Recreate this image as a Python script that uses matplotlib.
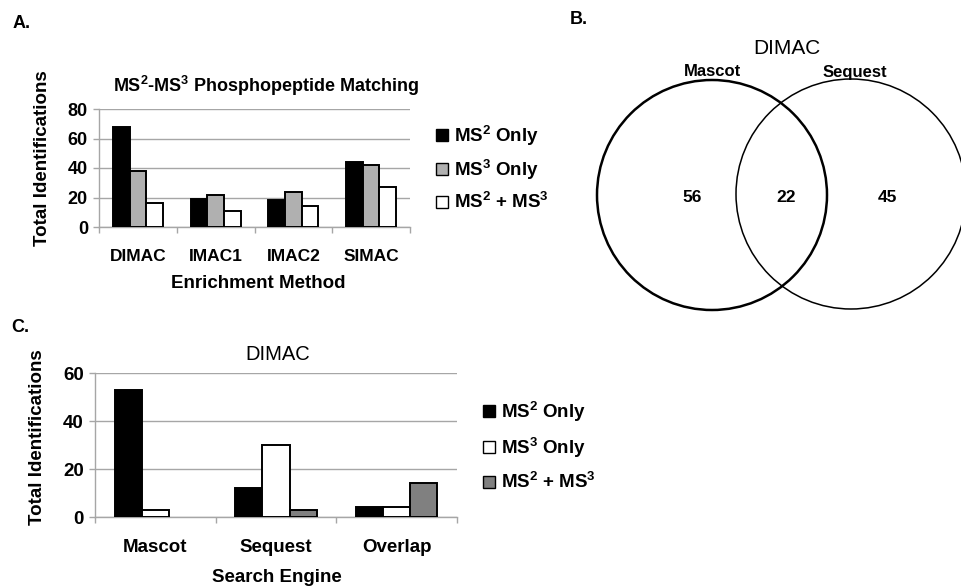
import matplotlib
matplotlib.use("Agg")
import matplotlib.pyplot as plt
import numpy as np
from matplotlib.patches import Circle, Patch

plt.rcParams['font.family'] = ['Liberation Sans', 'DejaVu Sans']
plt.rcParams['mathtext.fontset'] = 'custom'
plt.rcParams['mathtext.rm'] = 'Liberation Sans:bold'
plt.rcParams['mathtext.it'] = 'Liberation Sans:bold'
plt.rcParams['mathtext.bf'] = 'Liberation Sans:bold'
plt.rcParams['mathtext.default'] = 'rm'

# ---------------- data ----------------
a_categories = ['DIMAC', 'IMAC1', 'IMAC2', 'SIMAC']
a_ms2_only = [68, 19, 18, 44]
a_ms3_only = [38, 22, 24, 42]
a_ms2_ms3 = [16, 11, 14, 27]
a_yticks = [0, 20, 40, 60, 80]

venn_labels = ['Mascot', 'Sequest']
venn_counts = [56, 22, 45]  # Mascot only, overlap, Sequest only

c_categories = ['Mascot', 'Sequest', 'Overlap']
c_ms2_only = [53, 12, 4]
c_ms3_only = [3, 30, 4]
c_ms2_ms3 = [0, 3, 14]
c_yticks = [0, 20, 40, 60]

legend_labels = ['MS$^{2}$ Only', 'MS$^{3}$ Only', 'MS$^{2}$ + MS$^{3}$']

W, H = 962, 587
fig = plt.figure(figsize=(W / 100, H / 100), dpi=100)


def fx(px):
    return px / W


def fy(py):
    return 1 - py / H


GRID = '#a6a6a6'


def style_axes(ax, ncat, yticks, yfs, xfs, xpad):
    ax.set_xlim(-0.5, ncat - 0.5)
    ax.set_ylim(yticks[0], yticks[-1])
    ax.set_yticks(yticks)
    ax.yaxis.grid(True, color=GRID, lw=1)
    ax.set_axisbelow(True)
    for s in ['top', 'right']:
        ax.spines[s].set_visible(False)
    for s in ['left', 'bottom']:
        ax.spines[s].set_color(GRID)
        ax.spines[s].set_linewidth(1)
    ax.set_xticks(np.arange(ncat))
    ax.set_xticks(np.arange(ncat + 1) - 0.5, minor=True)
    ax.tick_params(axis='x', which='major', length=0, pad=xpad, labelsize=xfs)
    ax.tick_params(axis='x', which='minor', length=4, color=GRID, width=1)
    ax.tick_params(axis='y', length=4, color=GRID, width=1, pad=4, labelsize=yfs)
    for lab in ax.get_yticklabels():
        lab.set_fontweight('bold')


def bars(ax, series, colors, width):
    n = len(series)
    x = np.arange(len(series[0]))
    for i, (vals, col) in enumerate(zip(series, colors)):
        offs = (i - (n - 1) / 2) * width
        bs = ax.bar(x + offs, vals, width, color=col, edgecolor='black', linewidth=1.4, zorder=3)
        for b, v in zip(bs, vals):
            if v == 0:
                b.set_visible(False)


# ---------------- Panel A ----------------
axA = fig.add_axes([fx(99), fy(227), fx(410) - fx(99), fy(109) - fy(227)])
colsA = ['black', '#b0b0b0', 'white']
bars(axA, [a_ms2_only, a_ms3_only, a_ms2_ms3], colsA, 0.215)
style_axes(axA, len(a_categories), a_yticks, 13, 12.5, 16)
axA.set_xticklabels(a_categories, fontweight='bold')
fig.text(fx(266), fy(86), 'MS$^{2}$-MS$^{3}$ Phosphopeptide Matching', ha='center', va='center',
         fontsize=13, fontweight='bold')
fig.text(fx(43), fy(158), 'Total Identifications', rotation=90, ha='center', va='center',
         fontsize=13.5, fontweight='bold')
fig.text(fx(258), fy(283), 'Enrichment Method', ha='center', va='center', fontsize=13.5,
         fontweight='bold')
handlesA = [Patch(facecolor=c, edgecolor='black', linewidth=1) for c in colsA]
legA = fig.legend(handlesA, legend_labels, loc='center left',
                  bbox_to_anchor=(fx(427), fy(168)), frameon=False,
                  prop={'size': 13.5, 'weight': 'bold'}, handlelength=0.6,
                  handleheight=0.6, handletextpad=0.35, labelspacing=0.55, borderpad=0)

# ---------------- Panel B (Venn) ----------------
axB = fig.add_axes([0, 0, 1, 1], zorder=-1)
axB.set_xlim(0, W)
axB.set_ylim(H, 0)
axB.axis('off')
axB.add_patch(Circle((712, 195), 115, fill=False, edgecolor='black', linewidth=1.8))
axB.add_patch(Circle((851, 194), 115, fill=False, edgecolor='black', linewidth=1.1))
axB.text(787, 48, 'DIMAC', ha='center', va='center', fontsize=15)
axB.text(713, 72, venn_labels[0], ha='center', va='center', fontsize=12, fontweight='bold')
axB.text(855, 72, venn_labels[1], ha='center', va='center', fontsize=12, fontweight='bold')
for xpos, v in zip([692, 786, 887], venn_counts):
    axB.text(xpos, 198, str(v), ha='center', va='center', fontsize=12.5, fontweight='bold')

# ---------------- Panel C ----------------
axC = fig.add_axes([fx(95), fy(517), fx(457) - fx(95), fy(373) - fy(517)])
colsC = ['black', 'white', '#808080']
bars(axC, [c_ms2_only, c_ms3_only, c_ms2_ms3], colsC, 0.225)
style_axes(axC, len(c_categories), c_yticks, 13.5, 13.5, 16)
axC.set_xticklabels(c_categories, fontweight='bold')
fig.text(fx(278), fy(354), 'DIMAC', ha='center', va='center', fontsize=14.5)
fig.text(fx(38), fy(437), 'Total Identifications', rotation=90, ha='center', va='center',
         fontsize=13.5, fontweight='bold')
fig.text(fx(277), fy(577), 'Search Engine', ha='center', va='center', fontsize=13.5,
         fontweight='bold')
handlesC = [Patch(facecolor=c, edgecolor='black', linewidth=1) for c in colsC]
legC = fig.legend(handlesC, legend_labels, loc='center left',
                  bbox_to_anchor=(fx(474), fy(446)), frameon=False,
                  prop={'size': 13.5, 'weight': 'bold'}, handlelength=0.6,
                  handleheight=0.6, handletextpad=0.35, labelspacing=0.65, borderpad=0)

# panel letters
fig.text(fx(13), fy(23), 'A.', ha='left', va='center', fontsize=13, fontweight='bold')
fig.text(fx(570), fy(20), 'B.', ha='left', va='center', fontsize=13, fontweight='bold')
fig.text(fx(11), fy(327), 'C.', ha='left', va='center', fontsize=13, fontweight='bold')

fig.savefig('out.png', dpi=100)
